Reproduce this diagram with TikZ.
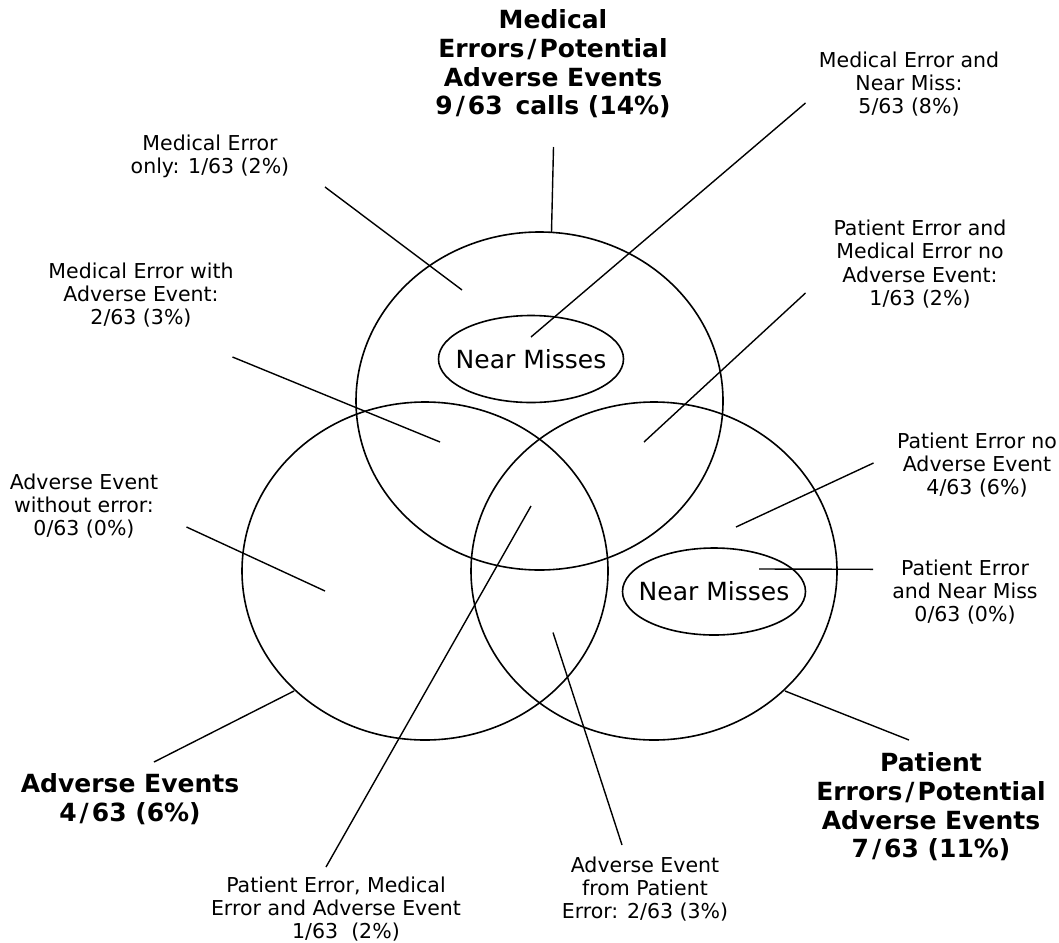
\documentclass[tikz,border=0pt]{standalone}
\usepackage{fontspec}
\setmainfont{DejaVu Sans}
\usetikzlibrary{shapes.geometric, positioning}
\newcommand{\bslash}{\kern3pt/\kern3pt}

\begin{document}
\begin{tikzpicture}[x=1pt, y=-1pt,
  lbl/.style={font=\fontsize{20.5}{23.3}\selectfont, align=center, inner sep=0pt},
  ttl/.style={font=\fontsize{25}{28.7}\selectfont\bfseries, align=center, inner sep=0pt},
  nm/.style={inner sep=0pt, font=\fontsize{25}{30}\selectfont},
  leader/.style={line width=1.4pt},
  setE/.style={line width=1.6pt}]
  \useasboundingbox (0,0) rectangle (1059,942);

  % The three sets
  \coordinate (me) at (539.5,401);
  \coordinate (ae) at (425,571);
  \coordinate (pe) at (654,571);
  \draw[setE] (me) ellipse [x radius=183.5pt, y radius=169pt];
  \draw[setE] (ae) ellipse [x radius=183pt, y radius=169pt];
  \draw[setE] (pe) ellipse [x radius=183pt, y radius=169pt];

  % Near misses inside the error sets
  \node[nm] (nmME) at (531,359) {Near Misses};
  \node[nm] (nmPE) at (714,591.5) {Near Misses};
  \draw[setE] (nmME) ellipse [x radius=92.5pt, y radius=43.5pt];
  \draw[setE] (nmPE) ellipse [x radius=91.5pt, y radius=43.5pt];

  % Set titles
  \node[ttl] (tME) at (553,64) {Medical\\Errors\bslash Potential\\Adverse Events\\9\bslash 63 \,calls (14\%)};
  \node[ttl] (tAE) at (130,799) {Adverse Events\\4\bslash 63 (6\%)};
  \node[ttl] (tPE) at (931,807) {Patient\\Errors\bslash Potential\\Adverse Events\\7\bslash 63 (11\%)};

  % Region labels
  \node[lbl] (lMEonly) at (210,156) {Medical Error\\only: 1/63 (2\%)};
  \node[lbl] (lMEnm) at (909,84) {Medical Error and\\Near Miss:\\5/63 (8\%)};
  \node[lbl] (lMEae) at (141,295) {Medical Error with\\Adverse Event:\\2/63 (3\%)};
  \node[lbl] (lPEme) at (920,264) {Patient Error and\\Medical Error no\\Adverse Event:\\1/63 (2\%)};
  \node[lbl] (lAEonly) at (84,506) {Adverse Event\\without error:\\0/63 (0\%)};
  \node[lbl] (lPEonly) at (977,465) {Patient Error no\\Adverse Event\\4/63 (6\%)};
  \node[lbl] (lPEnm) at (965,592) {Patient Error\\and Near Miss\\0/63 (0\%)};
  \node[lbl] (lAll) at (336,909) {Patient Error, Medical\\Error and Adverse Event\\\hspace*{20pt}1/63 \ (2\%)};
  \node[lbl] (lAEpe) at (645,889) {Adverse Event\\from Patient\\Error: 2/63 (3\%)};

  % Leader ends
  \coordinate (sME) at (553.5,147);      \coordinate (eME) at (551.5,232);
  \coordinate (sAE) at (154,762);        \coordinate (eAE) at (294,691);
  \coordinate (sPE) at (909,740);        \coordinate (ePE) at (785,691);
  \coordinate (sMEonly) at (325,187);    \coordinate (eMEonly) at (462,290);
  \coordinate (sMEnm) at (805.5,103);    \coordinate (eMEnm) at (531,337);
  \coordinate (sMEae) at (232.5,357);    \coordinate (eMEae) at (440,442);
  \coordinate (sPEme) at (805.5,293);    \coordinate (ePEme) at (644,442);
  \coordinate (sAEonly) at (186.5,527);  \coordinate (eAEonly) at (325,591);
  \coordinate (sPEonly) at (873.5,463);  \coordinate (ePEonly) at (736,527);
  \coordinate (sPEnm) at (873,569.3);    \coordinate (ePEnm) at (759,569);
  \coordinate (sAll) at (326,867);       \coordinate (eAll) at (531,506);
  \coordinate (sAEpe) at (622,845);      \coordinate (eAEpe) at (553,632.5);

  % Leaders
  \foreach \r in {ME, AE, PE, MEonly, MEnm, MEae, PEme, AEonly, PEonly, PEnm, All, AEpe}
    \draw[leader] (s\r) -- (e\r);
\end{tikzpicture}
\end{document}
